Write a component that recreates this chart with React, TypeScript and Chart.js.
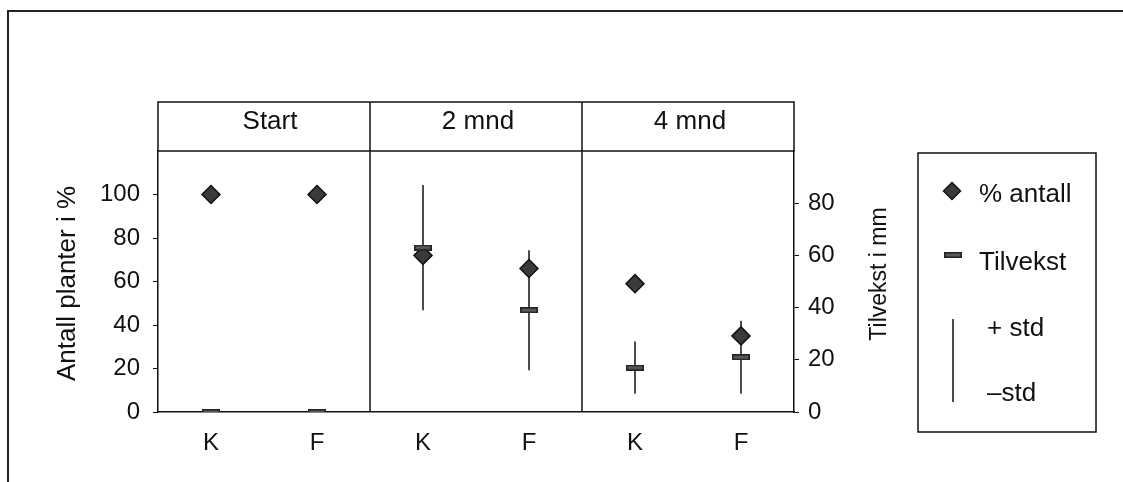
import React, { useEffect, useRef } from 'react';
import { Chart, registerables } from 'chart.js';

Chart.register(...registerables);

// ---- data ----
const categories = ['K', 'F', 'K', 'F', 'K', 'F'];
const panelLabels = ['Start', '2 mnd', '4 mnd'];
const antallPct = [100, 100, 72, 66, 59, 35];
const tilvekstMm = [0, 0, 63, 39, 17, 21];
const tilvekstStd = [0, 0, 24, 23, 10, 14];
const leftTicks = [0, 20, 40, 60, 80, 100];
const rightTicks = [0, 20, 40, 60, 80];
const leftTitle = 'Antall planter i %';
const rightTitle = 'Tilvekst i mm';
const legendLabels = ['% antall', 'Tilvekst', '+ std', '\u2013std'];

const FONT = '"Liberation Sans", Arial, Helvetica, sans-serif';
const INK = '#111';

function makeDash(): HTMLCanvasElement {
  const c = document.createElement('canvas');
  c.width = 18;
  c.height = 6;
  const g = c.getContext('2d')!;
  g.fillStyle = '#222';
  g.fillRect(0, 0, 18, 6);
  g.fillStyle = '#5a5a5a';
  g.fillRect(1.5, 1.5, 15, 3);
  return c;
}

function drawDiamond(ctx: CanvasRenderingContext2D, x: number, y: number, r: number) {
  ctx.beginPath();
  ctx.moveTo(x, y - r);
  ctx.lineTo(x + r, y);
  ctx.lineTo(x, y + r);
  ctx.lineTo(x - r, y);
  ctx.closePath();
  ctx.fillStyle = '#3a3a3a';
  ctx.fill();
  ctx.lineWidth = 1.5;
  ctx.strokeStyle = INK;
  ctx.stroke();
}

const dashImg = typeof document !== 'undefined' ? makeDash() : (null as any);

const decorPlugin = {
  id: 'decor',
  beforeDraw(chart: any) {
    const ctx = chart.ctx as CanvasRenderingContext2D;
    ctx.save();
    ctx.strokeStyle = '#222';
    ctx.lineWidth = 2;
    ctx.strokeRect(8, 11, 1300, 700);
    ctx.restore();
  },
  beforeDatasetsDraw(chart: any) {
    const ctx = chart.ctx as CanvasRenderingContext2D;
    const xs = chart.scales.x;
    const yr = chart.scales.yR;
    ctx.save();
    ctx.strokeStyle = INK;
    ctx.lineWidth = 1.5;
    tilvekstMm.forEach((v, i) => {
      const s = tilvekstStd[i];
      if (!s) return;
      const x = xs.getPixelForValue(i);
      ctx.beginPath();
      ctx.moveTo(x, yr.getPixelForValue(v + s));
      ctx.lineTo(x, yr.getPixelForValue(v - s));
      ctx.stroke();
    });
    ctx.restore();
  },
  afterDraw(chart: any) {
    const ctx = chart.ctx as CanvasRenderingContext2D;
    const a = chart.chartArea;
    const xs = chart.scales.x;
    const headTop = a.top - 49;
    ctx.save();
    ctx.strokeStyle = INK;
    ctx.lineWidth = 1.5;
    // header box
    ctx.strokeRect(a.left, headTop, a.right - a.left, a.top - headTop);
    // panel dividers
    const bounds = [a.left];
    for (let p = 1; p < panelLabels.length; p++) {
      const xDiv = (xs.getPixelForValue(p * 2 - 1) + xs.getPixelForValue(p * 2)) / 2;
      bounds.push(xDiv);
      ctx.beginPath();
      ctx.moveTo(xDiv, headTop);
      ctx.lineTo(xDiv, a.bottom);
      ctx.stroke();
    }
    bounds.push(a.right);
    ctx.fillStyle = INK;
    ctx.font = `26px ${FONT}`;
    ctx.textAlign = 'center';
    ctx.textBaseline = 'alphabetic';
    panelLabels.forEach((lab, p) => {
      ctx.fillText(lab, (bounds[p] + bounds[p + 1]) / 2 + (p === 0 ? 6 : 2), headTop + 27);
    });

    // axis titles
    ctx.save();
    ctx.translate(68, (a.top + a.bottom) / 2 + 2);
    ctx.rotate(-Math.PI / 2);
    ctx.textBaseline = 'middle';
    ctx.font = `26px ${FONT}`;
    ctx.fillText(leftTitle, 0, 0);
    ctx.restore();

    ctx.save();
    ctx.translate(880, 274);
    ctx.rotate(-Math.PI / 2);
    ctx.textBaseline = 'middle';
    ctx.font = `23px ${FONT}`;
    ctx.fillText(rightTitle, 0, 0);
    ctx.restore();

    // legend
    const lx = 918, ly = 153, lw = 178, lh = 279;
    ctx.strokeRect(lx, ly, lw, lh);
    drawDiamond(ctx, 952, 191, 8.5);
    ctx.drawImage(dashImg, 944, 252);
    ctx.beginPath();
    ctx.moveTo(953, 319);
    ctx.lineTo(953, 402);
    ctx.stroke();
    ctx.font = `26px ${FONT}`;
    ctx.textAlign = 'left';
    ctx.textBaseline = 'alphabetic';
    ctx.fillStyle = INK;
    ctx.fillText(legendLabels[0], 979, 202);
    ctx.fillText(legendLabels[1], 979, 270);
    ctx.fillText(legendLabels[2], 987, 336);
    ctx.fillText(legendLabels[3], 987, 401);
    ctx.restore();
  },
};

export default function App() {
  const ref = useRef<HTMLCanvasElement>(null);
  useEffect(() => {
    document.body.style.margin = '0';
    const canvas = ref.current!;
    const chart = new Chart(canvas, {
      type: 'line',
      data: {
        labels: categories,
        datasets: [
          {
            label: legendLabels[0],
            data: antallPct,
            yAxisID: 'yL',
            showLine: false,
            pointStyle: 'rectRot',
            pointRadius: 9,
            pointBackgroundColor: '#3a3a3a',
            pointBorderColor: INK,
            pointBorderWidth: 1.5,
            order: 2,
          },
          {
            label: legendLabels[1],
            data: tilvekstMm,
            yAxisID: 'yR',
            showLine: false,
            pointStyle: dashImg,
            pointRadius: 9,
            order: 1,
          },
        ],
      },
      options: {
        responsive: false,
        animation: false,
        devicePixelRatio: 1,
        layout: { padding: { left: 0, right: 269, top: 151, bottom: 20 } },
        plugins: { legend: { display: false }, tooltip: { enabled: false }, title: { display: false } },
        scales: {
          x: {
            type: 'category',
            offset: true,
            grid: { display: false },
            border: { display: true, color: INK, width: 1.5 },
            ticks: { color: INK, font: { family: FONT, size: 24 }, padding: 9 },
            afterFit: (s: any) => { s.height = 50; },
          },
          yL: {
            type: 'linear',
            position: 'left',
            min: 0,
            max: 120,
            grid: { drawOnChartArea: false, drawTicks: true, tickLength: 5, color: INK },
            border: { display: true, color: INK, width: 1.5 },
            ticks: { color: INK, font: { family: FONT, size: 24 }, padding: 13 },
            afterBuildTicks: (s: any) => { s.ticks = leftTicks.map((v) => ({ value: v })); },
            afterFit: (s: any) => { s.width = 158; },
          },
          yR: {
            type: 'linear',
            position: 'right',
            min: 0,
            max: 100,
            grid: { drawOnChartArea: false, drawTicks: true, tickLength: 5, color: INK },
            border: { display: true, color: INK, width: 1.5 },
            ticks: { color: INK, font: { family: FONT, size: 24 }, padding: 9 },
            afterBuildTicks: (s: any) => { s.ticks = rightTicks.map((v) => ({ value: v })); },
            afterFit: (s: any) => { s.width = 60; },
          },
        },
      },
      plugins: [decorPlugin],
    } as any);
    return () => chart.destroy();
  }, []);
  return <canvas ref={ref} width={1123} height={482} style={{ display: 'block' }} />;
}
